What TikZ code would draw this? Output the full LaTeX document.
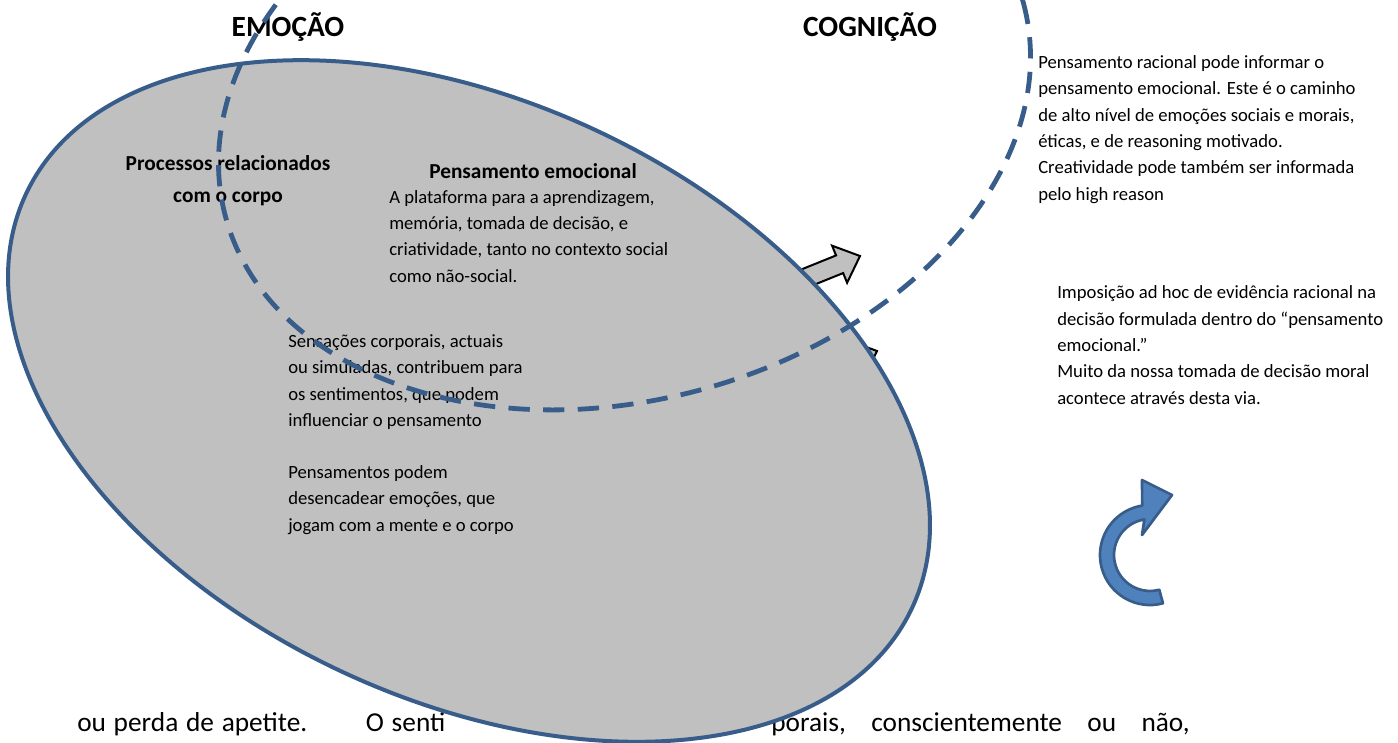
\documentclass[tikz,border=0pt]{standalone}
\usepackage{fontspec}
\setmainfont{Carlito}
\usepackage{xcolor}
\usepackage{tikz}
\usetikzlibrary{calc}
\definecolor{shapeblue}{HTML}{385D8A}
\definecolor{arrowblue}{HTML}{4F81BD}
\definecolor{shapegrey}{HTML}{C0C0C0}

\begin{document}
\begin{tikzpicture}[
  x=0.75pt, y=-0.75pt,
  heading/.style={font=\fontsize{22}{26}\selectfont\bfseries, inner sep=0pt},
  subhead/.style={font=\fontsize{16}{24}\selectfont\bfseries, align=center, inner sep=0pt},
  body/.style={font=\fontsize{14}{19.75}\selectfont, align=left, anchor=base west, inner sep=0pt},
  pagetext/.style={font=\fontsize{20.5}{24}\selectfont, inner sep=0pt},
  blockarrow/.style={draw=black, line width=1.5pt, fill=shapegrey, line join=miter},
  region/.style={draw=shapeblue, line width=3pt, fill=shapegrey},
  dashring/.style={draw=shapeblue, line width=3.6pt, dash pattern=on 16pt off 10pt},
  curvearrow/.style={draw=shapeblue, line width=2pt, fill=arrowblue, line join=round}
]
  \useasboundingbox (0,0) rectangle (1398,742);
  \clip (0,0) rectangle (1398,742);

  \node[pagetext, anchor=base west] (linhaesq) at (77,731) {\spaceskip=5.8pt ou perda de apetite.\hspace{44pt}O senti};
  \node[pagetext, anchor=base east] (linhadir) at (1190,731) {\spaceskip=19pt porais, conscientemente ou não,};

  \draw[blockarrow, shift={(860,256)}, rotate=22] (0,0) -- (-22,20) -- (-22,9.5) -- (-110,9.5) -- (-110,-9.5) -- (-22,-9.5) -- (-22,-20) -- cycle;
  \draw[blockarrow, shift={(877,351)}, rotate=22] (0,0) -- (-22,20) -- (-22,9.5) -- (-110,9.5) -- (-110,-9.5) -- (-22,-9.5) -- (-22,-20) -- cycle;

  \draw[region, shift={(469,401)}, rotate=-25] (0,0) ellipse [x radius=489, y radius=299];

  \node[heading] (emocao) at (288,27) {EMOÇÃO};
  \node[heading] (cognicao) at (870,27) {COGNIÇÃO};
  \node[subhead] (corpo) at (228,181) {Processos relacionados\\com o corpo};
  \node[subhead, anchor=base] (pemocional) at (533,178) {Pensamento emocional};
  \node[body] (plataforma) at (389,282) {A plataforma para a aprendizagem,\\memória, tomada de decisão, e\\criatividade, tanto no contexto social\\como não-social.};
  \node[body] (sensacoes) at (288,531) {Sensações corporais, actuais\\ou simuladas, contribuem para\\os sentimentos, que podem\\influenciar o pensamento\\[19.25pt]Pensamentos podem\\desencadear emoções, que\\jogam com a mente e o corpo};
  \node[body] (racional) at (1038,200) {Pensamento racional pode informar o\\pensamento emocional. Este é o caminho\\de alto nível de emoções sociais e morais,\\éticas, e de reasoning motivado.\\Creatividade pode também ser informada\\pelo high reason};
  \node[body] (imposicao) at (1057,404) {Imposição ad hoc de evidência racional na\\decisão formulada dentro do “pensamento\\emocional.”\\Muito da nossa tomada de decisão moral\\acontece através desta via.};

  \draw[dashring, shift={(624.5,110)}, rotate=15] (0,0) ellipse [x radius=413, y radius=290];

  \coordinate (hub) at (1150,555);
  \draw[curvearrow] ($(hub)+(75:50)$) arc[start angle=75, end angle=261, radius=50] -- (1142,480) -- (1172,495) -- (1142,535) -- ($(hub)+(261:36)$) arc[start angle=261, end angle=75, radius=36] -- cycle;
\end{tikzpicture}
\end{document}
